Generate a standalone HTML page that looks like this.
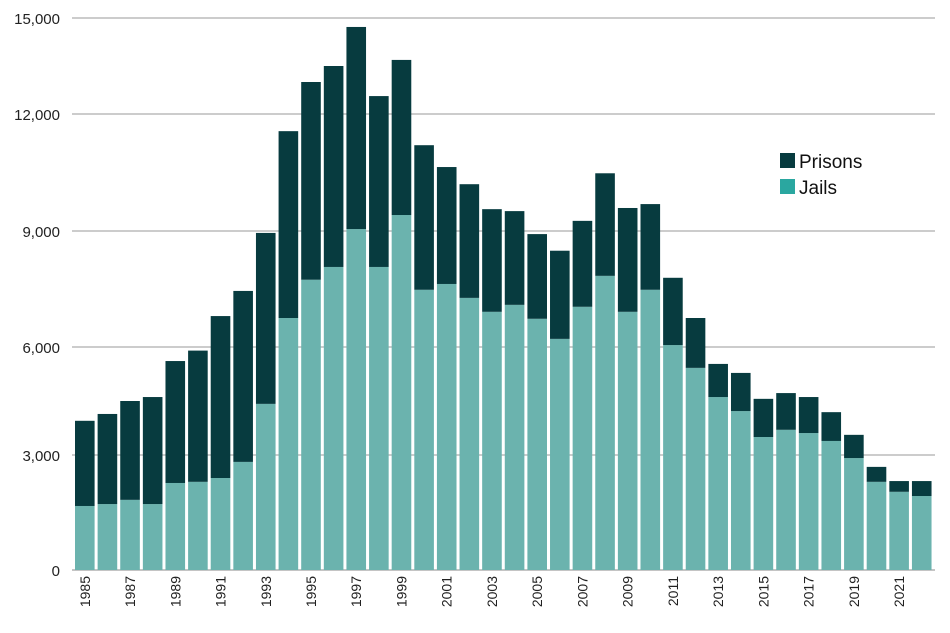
<!DOCTYPE html>
<html><head><meta charset="utf-8"><style>
body{margin:0;background:#fff;font-family:"Liberation Sans",sans-serif}
svg text{font-family:"Liberation Sans",sans-serif}
</style></head><body>
<svg id="chart" width="950" height="628" viewBox="0 0 950 628" xmlns="http://www.w3.org/2000/svg">
<g id="grid"></g>
<g id="bars"></g>
<g id="yaxis"></g>
<g id="xaxis"></g>
<g>
<rect x="780" y="153" width="15" height="15" fill="#073b3f"/>
<text x="799" y="168" font-size="19" fill="#111">Prisons</text>
<rect x="780" y="179" width="15" height="15" fill="#2aa7a0"/>
<text x="799" y="194" font-size="19" fill="#111">Jails</text>
</g>
</svg>
<script>
const years=[1985,1986,1987,1988,1989,1990,1991,1992,1993,1994,1995,1996,1997,1998,1999,2000,2001,2002,2003,2004,2005,2006,2007,2008,2009,2010,2011,2012,2013,2014,2015,2016,2017,2018,2019,2020,2021,2022];
const jails=[1670,1720,1830,1720,2270,2300,2400,2820,4420,6750,7740,8070,9050,8070,9410,7480,7630,7270,6910,7090,6730,6210,7040,7840,6910,7480,6050,5420,4610,4220,3500,3700,3610,3390,2920,2300,2040,1930];
const totals=[3950,4140,4500,4610,5610,5900,6800,7450,8950,11560,13000,13500,14720,12560,13690,11200,10640,10200,9560,9510,8920,8490,9260,10480,9590,9690,7790,6750,5530,5280,4560,4720,4610,4190,3560,2690,2320,2320];
const prisons=totals.map((t,i)=>t-jails[i]);
const yTicks=[0,3000,6000,9000,12000,15000];
const yTickLabels=["0","3,000","6,000","9,000","12,000","15,000"];
const ns="http://www.w3.org/2000/svg";
// piecewise axis matching reference gridline positions
const tickPx=[570,455,347,231,114,18];
function y(v){
  for(let i=0;i<yTicks.length-1;i++){
    if(v<=yTicks[i+1]||i===yTicks.length-2){
      const t=(v-yTicks[i])/(yTicks[i+1]-yTicks[i]);
      return tickPx[i]+t*(tickPx[i+1]-tickPx[i]);
    }
  }
}
const x0=75,step=22.62,bw=19.6;
function x(i){return x0+i*step;}
function mk(tag,attrs,parent){const e=document.createElementNS(ns,tag);for(const k in attrs)e.setAttribute(k,attrs[k]);parent.appendChild(e);return e;}
const grid=document.getElementById('grid'),ya=document.getElementById('yaxis'),xa=document.getElementById('xaxis'),bars=document.getElementById('bars');
yTicks.forEach((v,i)=>{
  const l=mk('line',{x1:72,x2:935,y1:y(v),y2:y(v),stroke:i===0?'#888':'#999','stroke-width':1},grid);
  
  
  const t=mk('text',{x:60,y:y(v)+6,'text-anchor':'end','font-size':15,fill:'#222'},ya);
  t.textContent=yTickLabels[i];
  
  
});
years.forEach((yr,i)=>{
  const j=mk('rect',{x:x(i),y:y(jails[i]),width:bw,height:y(0)-y(jails[i]),fill:'#6bb3ae'},bars);
  
  
  const tot=jails[i]+prisons[i];
  const p=mk('rect',{x:x(i),y:y(tot),width:bw,height:y(jails[i])-y(tot),fill:'#073b3f'},bars);
  
  
  if(i%2===0){
    const cx=x(i)+bw/2+5;
    const t=mk('text',{x:cx,y:576,'text-anchor':'end','font-size':14,fill:'#222',transform:'rotate(-90 '+cx+' 576)'},xa);
    t.textContent=yr;
    
    
  }
});
</script>
</body></html>
